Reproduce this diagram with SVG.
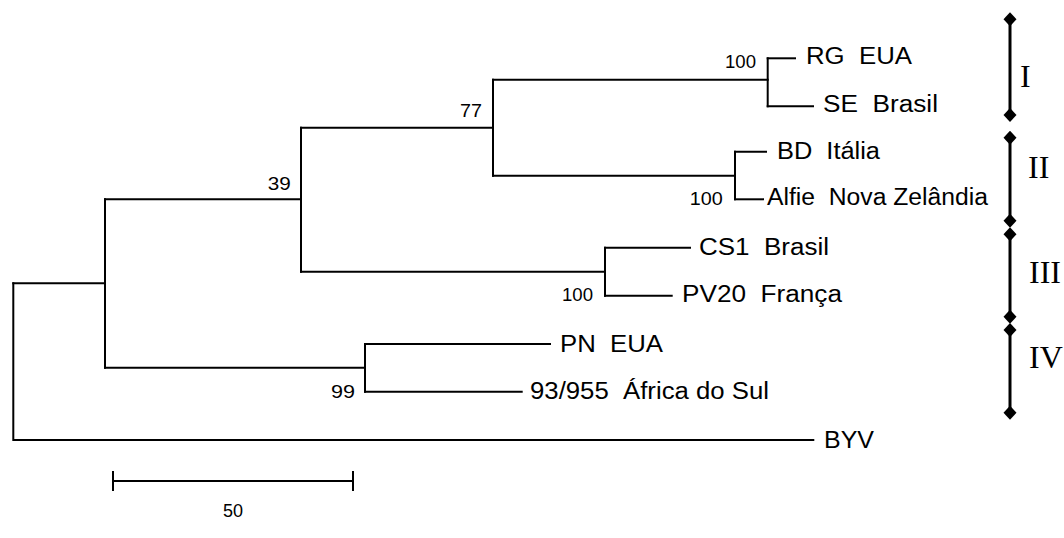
<svg xmlns="http://www.w3.org/2000/svg" width="1064" height="538" viewBox="0 0 1064 538" xml:space="preserve">
<style>
.br{fill:none;stroke:#000;stroke-width:2;stroke-linecap:square}
.bar{fill:none;stroke:#000;stroke-width:3}
text{white-space:pre}
.lab{font-family:"Liberation Sans",Arial,sans-serif;font-size:23px;fill:#000}
.bs{font-family:"Liberation Sans",Arial,sans-serif;font-size:17.5px;fill:#000;text-anchor:end}
.rom{font-family:"Liberation Serif","Times New Roman",serif;font-size:32px;fill:#000}
</style>
<defs>
<marker id="dia" viewBox="-7 -7 14 14" markerWidth="14" markerHeight="14" refX="0" refY="0" markerUnits="userSpaceOnUse" orient="0">
<path d="M0,-7 L6.5,0 L0,7 L-6.5,0 Z" fill="#000"/>
</marker>
</defs>
<rect width="1064" height="538" fill="#fff"/>
<g id="connectors">
<path class="br" d="M13.3,283.3 V440 H813.3"/>
<path class="br" d="M13.3,283.3 H105"/>
<path class="br" d="M105,199.3 V367.7"/>
<path class="br" d="M105,199.3 H301"/>
<path class="br" d="M105,367.7 H365"/>
<path class="br" d="M301,127.7 V271.7"/>
<path class="br" d="M301,127.7 H493"/>
<path class="br" d="M301,271.7 H605"/>
<path class="br" d="M493,79.7 V175.7"/>
<path class="br" d="M493,79.7 H767.7"/>
<path class="br" d="M493,175.7 H735"/>
<path class="br" d="M767.7,58.3 V106.3"/>
<path class="br" d="M767.7,58.3 H795"/>
<path class="br" d="M767.7,106.3 H813"/>
<path class="br" d="M735,151.7 V199.3"/>
<path class="br" d="M735,151.7 H766"/>
<path class="br" d="M735,199.3 H763"/>
<path class="br" d="M605,247.7 V295.7"/>
<path class="br" d="M605,247.7 H690"/>
<path class="br" d="M605,295.7 H671.7"/>
<path class="br" d="M365,344 V391.7"/>
<path class="br" d="M365,344 H550"/>
<path class="br" d="M365,391.7 H521.7"/>
</g>
<g id="taxa">
<text class="lab" x="806" y="64" textLength="106" lengthAdjust="spacingAndGlyphs">RG  EUA</text>
<text class="lab" x="823" y="112" textLength="115" lengthAdjust="spacingAndGlyphs">SE  Brasil</text>
<text class="lab" x="777" y="159" textLength="103" lengthAdjust="spacingAndGlyphs">BD  Itália</text>
<text class="lab" x="767" y="205" textLength="221" lengthAdjust="spacingAndGlyphs">Alfie  Nova Zelândia</text>
<text class="lab" x="699" y="255" textLength="130" lengthAdjust="spacingAndGlyphs">CS1  Brasil</text>
<text class="lab" x="682" y="302" textLength="160" lengthAdjust="spacingAndGlyphs">PV20  França</text>
<text class="lab" x="560" y="351.5" textLength="103" lengthAdjust="spacingAndGlyphs">PN  EUA</text>
<text class="lab" x="530" y="399" textLength="239" lengthAdjust="spacingAndGlyphs">93/955  África do Sul</text>
<text class="lab" x="824" y="447.5" textLength="50" lengthAdjust="spacingAndGlyphs">BYV</text>
</g>
<g id="bootstrap">
<text class="bs" x="756" y="68" textLength="31" lengthAdjust="spacingAndGlyphs">100</text>
<text class="bs" x="482" y="117" textLength="22" lengthAdjust="spacingAndGlyphs">77</text>
<text class="bs" x="290.7" y="189.5" textLength="23" lengthAdjust="spacingAndGlyphs">39</text>
<text class="bs" x="722.7" y="204.5" textLength="33" lengthAdjust="spacingAndGlyphs">100</text>
<text class="bs" x="593" y="300.5" textLength="31" lengthAdjust="spacingAndGlyphs">100</text>
<text class="bs" x="355" y="397.5" textLength="24" lengthAdjust="spacingAndGlyphs">99</text>
</g>
<g id="groups">
<g id="group-I"><line class="bar" x1="1010" y1="19.3" x2="1010" y2="115" marker-start="url(#dia)" marker-end="url(#dia)"/><text class="rom" x="1020" y="87">I</text></g>
<g id="group-II"><line class="bar" x1="1010" y1="137.7" x2="1010" y2="220.7" marker-start="url(#dia)" marker-end="url(#dia)"/><text class="rom" x="1028" y="178">II</text></g>
<g id="group-III"><line class="bar" x1="1010" y1="234.3" x2="1010" y2="316.7" marker-start="url(#dia)" marker-end="url(#dia)"/><text class="rom" x="1029" y="283">III</text></g>
<g id="group-IV"><line class="bar" x1="1010" y1="330" x2="1010" y2="412.7" marker-start="url(#dia)" marker-end="url(#dia)"/><text class="rom" x="1029" y="368">IV</text></g>
</g>
<g id="scale">
<path class="br" d="M113,481 H353 M113,472 V490 M353,472 V490" stroke-linecap="butt"/>
<text class="lab" x="233" y="517" text-anchor="middle" style="font-size:18px">50</text>
</g>
</svg>
